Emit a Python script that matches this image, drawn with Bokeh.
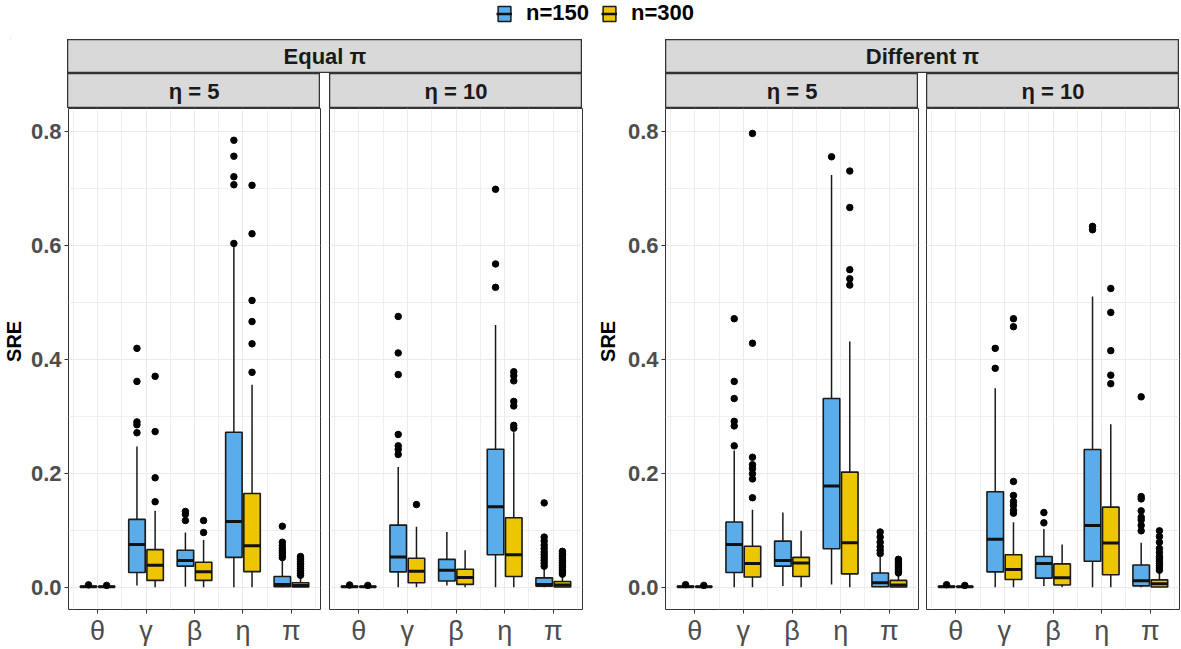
import math
import numpy as np
from bokeh.plotting import figure
from bokeh.models import (ColumnDataSource, Range1d, FixedTicker, NumeralTickFormatter,
                          Label, Legend, LegendItem, Spacer)
from bokeh.layouts import row, column
from bokeh.transform import dodge
from bokeh.embed import file_html
from bokeh.resources import INLINE

PARAMS = ["θ", "γ", "β", "η", "π"]
SERIES = ["n=150", "n=300"]
COLORS = ["#5AADEA", "#EDC500"]
GROUPS = ["Equal π", "Different π"]
ETAS = ["η = 5", "η = 10"]
Y_TICKS = [0.0, 0.2, 0.4, 0.6, 0.8]
Y_MINOR = [0.1, 0.3, 0.5, 0.7]
Y_LABEL = "SRE"

# rows follow PARAMS; columns: lower whisker, Q1, median, Q3, upper whisker
EQ5_N150 = [[0.0, 0.0005, 0.001, 0.0018, 0.003],
            [0.003, 0.026, 0.075, 0.119, 0.247],
            [0.001, 0.037, 0.047, 0.065, 0.096],
            [0.0, 0.0525, 0.1155, 0.272, 0.598],
            [0.0, 0.001, 0.005, 0.019, 0.046]]
EQ5_N150_OUT = [[0.0042],
                [0.271, 0.285, 0.290, 0.361, 0.419],
                [0.117, 0.128, 0.133],
                [0.603, 0.706, 0.720, 0.756, 0.784],
                [0.052, 0.056, 0.060, 0.064, 0.068, 0.073, 0.079, 0.107]]
EQ5_N300 = [[0.0, 0.0004, 0.0008, 0.0014, 0.0024],
            [0.0, 0.012, 0.0385, 0.066, 0.134],
            [0.0, 0.012, 0.027, 0.044, 0.083],
            [0.0, 0.0275, 0.073, 0.1645, 0.355],
            [0.0, 0.0005, 0.003, 0.008, 0.018]]
EQ5_N300_OUT = [[0.0033],
                [0.150, 0.192, 0.273, 0.370],
                [0.096, 0.117],
                [0.377, 0.427, 0.466, 0.503, 0.620, 0.705],
                [0.021, 0.024, 0.027, 0.030, 0.033, 0.036, 0.039, 0.042, 0.045, 0.048, 0.051, 0.054]]

EQ10_N150 = [[0.0, 0.0005, 0.001, 0.0018, 0.003],
             [0.0, 0.027, 0.053, 0.109, 0.211],
             [0.003, 0.011, 0.030, 0.049, 0.097],
             [0.0, 0.057, 0.141, 0.242, 0.460],
             [0.0, 0.002, 0.005, 0.0165, 0.033]]
EQ10_N150_OUT = [[0.004],
                 [0.233, 0.242, 0.248, 0.268, 0.373, 0.411, 0.475],
                 [],
                 [0.526, 0.567, 0.698],
                 [0.037, 0.042, 0.047, 0.052, 0.057, 0.062, 0.068, 0.074, 0.081, 0.088, 0.148]]
EQ10_N300 = [[0.0, 0.0004, 0.0008, 0.0014, 0.0024],
             [0.0, 0.008, 0.028, 0.051, 0.106],
             [0.0, 0.005, 0.017, 0.0315, 0.065],
             [0.0, 0.019, 0.057, 0.122, 0.272],
             [0.0, 0.0005, 0.004, 0.010, 0.020]]
EQ10_N300_OUT = [[0.0033],
                 [0.145],
                 [],
                 [0.279, 0.284, 0.318, 0.326, 0.362, 0.371, 0.378],
                 [0.023, 0.026, 0.029, 0.032, 0.035, 0.038, 0.041, 0.044, 0.047, 0.050, 0.053, 0.056, 0.059, 0.063]]

DF5_N150 = [[0.0, 0.0005, 0.001, 0.0018, 0.003],
            [0.0, 0.026, 0.075, 0.1145, 0.240],
            [0.002, 0.037, 0.047, 0.081, 0.131],
            [0.005, 0.0675, 0.1775, 0.331, 0.723],
            [0.0, 0.001, 0.008, 0.025, 0.053]]
DF5_N150_OUT = [[0.0045],
                [0.248, 0.283, 0.291, 0.331, 0.361, 0.471],
                [],
                [0.755],
                [0.059, 0.065, 0.071, 0.079, 0.088, 0.097]]
DF5_N300 = [[0.0, 0.0004, 0.0008, 0.0014, 0.0024],
            [0.0, 0.018, 0.0415, 0.072, 0.136],
            [0.0, 0.019, 0.0425, 0.0525, 0.099],
            [0.0, 0.0235, 0.078, 0.202, 0.431],
            [0.0, 0.0005, 0.004, 0.012, 0.022]]
DF5_N300_OUT = [[0.0033],
                [0.157, 0.190, 0.199, 0.208, 0.215, 0.228, 0.428, 0.796],
                [],
                [0.530, 0.541, 0.557, 0.666, 0.730],
                [0.025, 0.028, 0.031, 0.034, 0.037, 0.040, 0.043, 0.046, 0.049]]

DF10_N150 = [[0.0, 0.0005, 0.001, 0.0018, 0.003],
             [0.0, 0.027, 0.084, 0.1675, 0.349],
             [0.002, 0.016, 0.0415, 0.054, 0.102],
             [0.0, 0.0455, 0.1085, 0.2415, 0.510],
             [0.0, 0.0025, 0.0115, 0.039, 0.078]]
DF10_N150_OUT = [[0.0045],
                 [0.384, 0.419],
                 [0.113, 0.131],
                 [0.627, 0.633],
                 [0.099, 0.1085, 0.118, 0.123, 0.134, 0.155, 0.159, 0.334]]
DF10_N300 = [[0.0, 0.0004, 0.0008, 0.0014, 0.0024],
             [0.0, 0.0135, 0.031, 0.057, 0.114],
             [0.0, 0.004, 0.0165, 0.041, 0.075],
             [0.0, 0.022, 0.0775, 0.1405, 0.286],
             [0.0, 0.0005, 0.006, 0.013, 0.027]]
DF10_N300_OUT = [[0.0033],
                 [0.130, 0.135, 0.1435, 0.1505, 0.161, 0.1855, 0.457, 0.471],
                 [],
                 [0.357, 0.372, 0.415, 0.482, 0.524],
                 [0.030, 0.034, 0.038, 0.042, 0.046, 0.050, 0.054, 0.061, 0.068, 0.079, 0.089, 0.099]]

FONT = "Liberation Sans"
FRAME_W = 253
FRAME_H = 502
BOTTOM = 38
PANEL_H = FRAME_H + BOTTOM
LEG_H = 39
STRIP1_H = 34
STRIP2_H = 35
OFFSETS = [-0.1875, 0.1875]
BOX_W = 0.34


def make_panel(left, series_stats, series_outs, show_y):
    p = figure(width=left + FRAME_W + 1, height=PANEL_H, x_range=Range1d(0.4, 5.6),
               y_range=Range1d(-0.039, 0.8397), output_backend="svg",
               toolbar_location=None, y_axis_location="left" if show_y else None,
               min_border_left=left, min_border_right=1, min_border_top=0,
               min_border_bottom=BOTTOM, background_fill_color="white",
               border_fill_color="white", outline_line_color="#333333",
               outline_line_width=1)
    p.xgrid.ticker = FixedTicker(ticks=[1, 2, 3, 4, 5],
                                 minor_ticks=[0.5, 1.5, 2.5, 3.5, 4.5, 5.5])
    p.ygrid.ticker = FixedTicker(ticks=Y_TICKS, minor_ticks=Y_MINOR)
    for g in (p.xgrid[0], p.ygrid[0]):
        g.grid_line_color = "#EBEBEB"
        g.grid_line_width = 1
        g.minor_grid_line_color = "#EBEBEB"
        g.minor_grid_line_width = 0.8

    ax = p.xaxis[0]
    ax.ticker = FixedTicker(ticks=[1, 2, 3, 4, 5])
    ax.major_label_overrides = {i + 1: n for i, n in enumerate(PARAMS)}
    ax.axis_line_color = None
    ax.major_tick_line_color = "#333333"
    ax.major_tick_out = 4
    ax.major_tick_in = 0
    ax.minor_tick_line_color = None
    ax.major_label_standoff = 2
    ax.major_label_text_font = FONT
    ax.major_label_text_font_size = "27px"
    ax.major_label_text_color = "#4D4D4D"

    if show_y:
        ay = p.yaxis[0]
        ay.ticker = FixedTicker(ticks=Y_TICKS)
        ay.formatter = NumeralTickFormatter(format="0.0")
        ay.axis_line_color = None
        ay.major_tick_line_color = "#333333"
        ay.major_tick_out = 4
        ay.major_tick_in = 0
        ay.minor_tick_line_color = None
        ay.major_label_standoff = 3
        ay.major_label_text_font = FONT
        ay.major_label_text_font_size = "22px"
        ay.major_label_text_font_style = "bold"
        ay.major_label_text_color = "#4D4D4D"

    for s, (stats, outs) in enumerate(zip(series_stats, series_outs)):
        arr = np.array(stats)
        off = OFFSETS[s]
        src = ColumnDataSource(dict(x=list(range(1, len(PARAMS) + 1)),
                                    lower=arr[:, 0], q1=arr[:, 1], med=arr[:, 2],
                                    q3=arr[:, 3], upper=arr[:, 4]))
        xc = dodge("x", off)
        p.segment(x0=xc, y0="lower", x1=xc, y1="q1", source=src,
                  line_color="#1A1A1A", line_width=1.5)
        p.segment(x0=xc, y0="q3", x1=xc, y1="upper", source=src,
                  line_color="#1A1A1A", line_width=1.5)
        p.vbar(x=xc, width=BOX_W, bottom="q1", top="q3", source=src,
               fill_color=COLORS[s], line_color="#1A1A1A", line_width=1.6)
        p.segment(x0=dodge("x", off - BOX_W / 2), y0="med",
                  x1=dodge("x", off + BOX_W / 2), y1="med", source=src,
                  line_color="#111111", line_width=3)
        ox = [i + 1 for i, o in enumerate(outs) for _ in o]
        oy = [v for o in outs for v in o]
        osrc = ColumnDataSource(dict(x=ox, y=oy))
        p.scatter(x=dodge("x", off), y="y", source=osrc, size=6.5,
                  fill_color="black", line_color="black")
    return p


def make_strip(text, width, height):
    s = figure(width=width, height=height, x_range=Range1d(0, 1), y_range=Range1d(0, 1),
               output_backend="svg", toolbar_location=None, min_border=0,
               x_axis_location=None, y_axis_location=None,
               background_fill_color="#D9D9D9", border_fill_color="#D9D9D9",
               outline_line_color="#333333", outline_line_width=1.5)
    s.grid.visible = False
    s.add_layout(Label(x=0.5, y=0.5, text=text, text_align="center",
                       text_baseline="middle", text_font=FONT, text_font_style="bold",
                       text_font_size="22px", text_color="#1A1A1A"))
    return s


def make_ylabel(width):
    f = figure(width=width, height=PANEL_H, x_range=Range1d(0, 1),
               y_range=Range1d(0, PANEL_H), output_backend="svg", toolbar_location=None,
               min_border=0, x_axis_location=None, y_axis_location=None,
               outline_line_color=None)
    f.grid.visible = False
    f.add_layout(Label(x=0.5, y=PANEL_H - FRAME_H / 2, text=Y_LABEL, angle=math.pi / 2,
                       text_align="center", text_baseline="middle", text_font=FONT,
                       text_font_style="bold", text_font_size="20px", text_color="black"))
    return f


def make_group(title, data, ylab_w, axis_left, gap):
    lead = ylab_w + axis_left
    strip_outer = make_strip(title, 2 * FRAME_W + gap, STRIP1_H)
    s1 = make_strip(ETAS[0], FRAME_W, STRIP2_H)
    s2 = make_strip(ETAS[1], FRAME_W, STRIP2_H)
    p1 = make_panel(axis_left, data[0][0], data[0][1], True)
    p2 = make_panel(gap - 1, data[1][0], data[1][1], False)
    return column(
        row(Spacer(width=lead, height=STRIP1_H), strip_outer),
        row(Spacer(width=lead, height=STRIP2_H), s1, Spacer(width=gap, height=STRIP2_H), s2),
        row(make_ylabel(ylab_w), p1, p2),
    )


left_data = [((EQ5_N150, EQ5_N300), (EQ5_N150_OUT, EQ5_N300_OUT)),
             ((EQ10_N150, EQ10_N300), (EQ10_N150_OUT, EQ10_N300_OUT))]
right_data = [((DF5_N150, DF5_N300), (DF5_N150_OUT, DF5_N300_OUT)),
              ((DF10_N150, DF10_N300), (DF10_N150_OUT, DF10_N300_OUT))]

g_left = make_group(GROUPS[0], left_data, 27, 40, 9)
g_right = make_group(GROUPS[1], right_data, 30, 43, 8)

# legend row: proxy renderers (kept outside the visible range) drive the legend keys
leg = figure(width=1170, height=LEG_H, x_range=Range1d(0, 1), y_range=Range1d(0, 1),
             output_backend="svg", toolbar_location=None, min_border=0,
             x_axis_location=None, y_axis_location=None, outline_line_color=None)
leg.grid.visible = False
items = []
for name, col in zip(SERIES, COLORS):
    src = ColumnDataSource(dict(x=[-5.0], b=[-5.0], t=[-4.0], x0=[-5.0], y0=[-5.0],
                                x1=[-4.0], y1=[-5.0]))
    r1 = leg.vbar(x="x", bottom="b", top="t", width=0.1, source=src, fill_color=col,
                  line_color="#1A1A1A", line_width=1.5)
    r2 = leg.segment(x0="x0", y0="y0", x1="x1", y1="y1", source=src,
                     line_color="#111111", line_width=2.5)
    items.append(LegendItem(label=name, renderers=[r1, r2]))
legend = Legend(items=items, orientation="horizontal", location="top", margin=0,
                padding=2, spacing=12, label_standoff=14, glyph_width=16, glyph_height=19,
                label_text_font=FONT, label_text_font_style="bold",
                label_text_font_size="22px", label_text_color="black",
                border_line_color=None, background_fill_alpha=0)
leg.add_layout(legend)

layout = column(row(Spacer(width=10, height=LEG_H), leg),
                row(g_left, Spacer(width=9, height=10), g_right))

open("out.html", "w").write(file_html(layout, INLINE))
